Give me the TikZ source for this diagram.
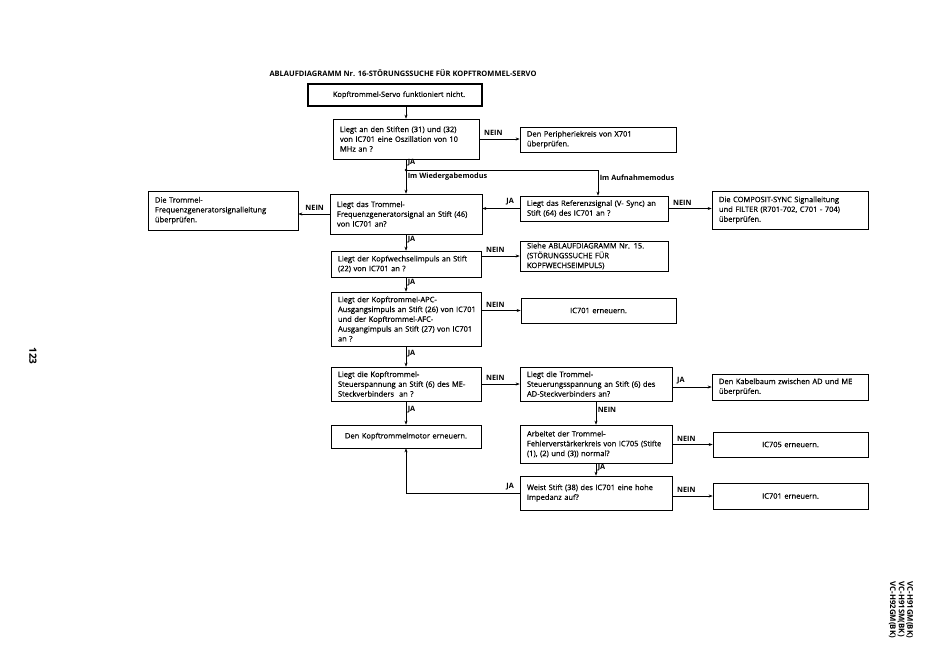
\documentclass[tikz,border=0pt]{standalone}
\usepackage{fontspec}
\setmainfont{Open Sans}
\newfontface\boxface{Open Sans}[FakeBold=0.4]
\newfontface\labface{Open Sans Bold}
\newcommand\lnx[1]{\mbox{#1}}
\usetikzlibrary{arrows.meta}
\tikzset{
  fbox/.style={draw, line width=0.7pt, inner xsep=7pt, inner ysep=1pt, align=left, font=\boxface\fontsize{7.5}{9.8}\selectfont},
  cbox/.style={fbox, align=center},
  lab/.style={font=\labface\fontsize{7.3}{8}\selectfont, inner sep=1.5pt},
  arr/.style={line width=0.6pt, -{Stealth[length=4pt,width=3pt]}},
  ln/.style={line width=0.6pt},
  nl/.style={lab, pos=0, anchor=south west, xshift=3pt, yshift=1.5pt},
  nr/.style={lab, pos=0, anchor=south east, xshift=-4pt, yshift=1.5pt},
  vl/.style={lab, anchor=west, pos=0.35},
}
\begin{document}
\begin{tikzpicture}[x=1pt,y=-1pt]
\useasboundingbox (0,0) rectangle (950,670);

\node[font=\labface\fontsize{7.5}{8}\selectfont] (title) at (403,73) {ABLAUFDIAGRAMM Nr. 16-STÖRUNGSSUCHE FÜR KOPFTROMMEL-SERVO};

\node[cbox, line width=1.3pt, text width=160pt, minimum height=22pt, font=\boxface\fontsize{7.4}{9.8}\selectfont] (T) at (395,95) {\hspace*{8pt}Kopftrommel-Servo funktioniert nicht.};
\node[fbox, text width=132pt, minimum height=40pt] (Q1) at (406,139) {\lnx{Liegt an den Stiften (31) und (32)}\\\lnx{von IC701 eine Oszillation von 10}\\\lnx{MHz an ?}};
\node[fbox, text width=142pt, minimum height=25pt] (P) at (598,139.5) {\lnx{Den Peripheriekreis von X701}\\\lnx{überprüfen.}};
\node[fbox, text width=136pt, minimum height=39pt] (L) at (223,210.5) {\lnx{Die Trommel-}\\\lnx{Frequenzgeneratorsignalleitung}\\\lnx{überprüfen.}};
\node[fbox, text width=138pt, minimum height=40pt] (Q2) at (406,214) {\lnx{Liegt das Trommel-}\\\lnx{Frequenzgeneratorsignal an Stift (46)}\\\lnx{von IC701 an?}};
\node[fbox, text width=134pt, minimum height=25pt] (Q3) at (594,208.5) {\lnx{Liegt das Referenzsignal (V- Sync) an}\\\lnx{Stift (64) des IC701 an ?}};
\node[fbox, text width=142pt, minimum height=38pt] (C) at (790,210) {\lnx{Die COMPOSIT-SYNC Signalleitung}\\\lnx{und FILTER (R701-702, C701 - 704)}\\\lnx{überprüfen.}};
\node[fbox, text width=136pt, minimum height=26pt] (Q4) at (406,264) {\lnx{Liegt der Kopfwechselimpuls an Stift}\\\lnx{(22) von IC701 an ?}};
\node[fbox, text width=134pt, minimum height=30pt] (S) at (594,256) {\lnx{Siehe ABLAUFDIAGRAMM Nr. 15.}\\\lnx{(STÖRUNGSSUCHE FÜR}\\\lnx{KOPFWECHSEIMPULS)}};
\node[fbox, text width=136pt, minimum height=54pt] (Q5) at (406,319) {\lnx{Liegt der Kopftrommel-APC-}\\\lnx{Ausgangsimpuls an Stift (26) von IC701}\\\lnx{und der Kopftrommel-AFC-}\\\lnx{Ausgangimpuls an Stift (27) von IC701}\\\lnx{an ?}};
\node[cbox, text width=141pt, minimum height=25pt] (I1) at (598.5,310.5) {IC701 erneuern.};
\node[fbox, text width=136pt, minimum height=34pt] (Q6) at (406,384) {\lnx{Liegt die Kopftrommel-}\\\lnx{Steuerspannung an Stift (6) des ME-}\\\lnx{Steckverbinders~ an ?}};
\node[fbox, text width=138pt, minimum height=34pt] (Q7) at (596,384) {\lnx{Liegt die Trommel-}\\\lnx{Steuerungsspannung an Stift (6) des}\\\lnx{AD-Steckverbinders an?}};
\node[fbox, text width=142pt, minimum height=26pt] (K) at (790,387) {\lnx{Den Kabelbaum zwischen AD und ME}\\\lnx{überprüfen.}};
\node[cbox, text width=136pt, minimum height=23pt] (M) at (406,436.5) {Den Kopftrommelmotor erneuern.};
\node[fbox, text width=138pt, minimum height=38pt] (Q8) at (596,444) {\lnx{Arbeitet der Trommel-}\\\lnx{Fehlerverstärkerkreis von IC705 (Stifte}\\\lnx{(1), (2) und (3)) normal?}};
\node[cbox, text width=141pt, minimum height=25pt] (I5) at (790.5,444.5) {IC705 erneuern.};
\node[fbox, text width=138pt, minimum height=34pt] (Q9) at (596,493) {\lnx{Weist Stift (38) des IC701 eine hohe}\\\lnx{Impedanz auf?}};
\node[cbox, text width=141pt, minimum height=26pt] (I2) at (790.5,496) {IC701 erneuern.};

\coordinate (J) at (406,170);
\coordinate (J2) at (598,170);

\draw[arr] (T.south -| Q1.north) -- (Q1.north);
\draw[arr] (Q1.east) -- node[nl]{NEIN} (Q1.east -| P.west);
\draw[ln] (Q1.south) -- node[vl]{JA} (J);
\fill (J) circle (1.4pt);
\draw[arr] (J) -- node[lab, anchor=west, pos=0.3]{Im Wiedergabemodus} (Q2.north);
\draw[ln] (J) -- (J2);
\draw[arr] (J2) -- node[lab, anchor=west, pos=0.3]{Im Aufnahmemodus} (J2 |- Q3.north);
\draw[arr] (Q2.west) -- node[nr]{NEIN} (Q2.west -| L.east);
\draw[arr] (Q3.west) -- node[nr]{JA} (Q3.west -| Q2.east);
\draw[arr] (Q3.east) -- node[nl]{NEIN} (Q3.east -| C.west);
\draw[arr] (Q2.south) -- node[vl]{JA} (Q4.north);
\draw[arr] (Q4.east |- S.west) -- node[nl]{NEIN} (S.west);
\draw[arr] (Q4.south) -- node[vl]{JA} (Q5.north);
\draw[arr] (Q5.east |- I1.west) -- node[nl]{NEIN} (I1.west);
\draw[arr] (Q5.south) -- node[vl]{JA} (Q6.north);
\draw[arr] (Q6.east) -- node[nl]{NEIN} (Q6.east -| Q7.west);
\draw[arr] (Q7.east |- K.west) -- node[nl]{JA} (K.west);
\draw[arr] (Q6.south) -- node[vl]{JA} (M.north);
\draw[arr] (Q7.south) -- node[vl]{NEIN} (Q8.north);
\draw[arr] (Q8.east |- I5.west) -- node[nl]{NEIN} (I5.west);
\draw[arr] (Q8.south) -- node[vl]{JA} (Q9.north);
\draw[arr] (Q9.east |- I2.west) -- node[nl]{NEIN} (I2.west);
\draw[arr] (Q9.west) -- node[nr]{JA} (Q9.west -| M.south) -- (M.south);

\node[rotate=-90, font=\labface\fontsize{10}{10}\selectfont] (pg) at (33,356) {123};
\node[rotate=-90, align=left, inner sep=0pt, font=\labface\fontsize{7.8}{8.6}\selectfont] (model) at (901,610) {VC-H91GM(BK)\\VC-H91SM(BK)\\VC-H92GM(BK)};
\end{tikzpicture}
\end{document}
